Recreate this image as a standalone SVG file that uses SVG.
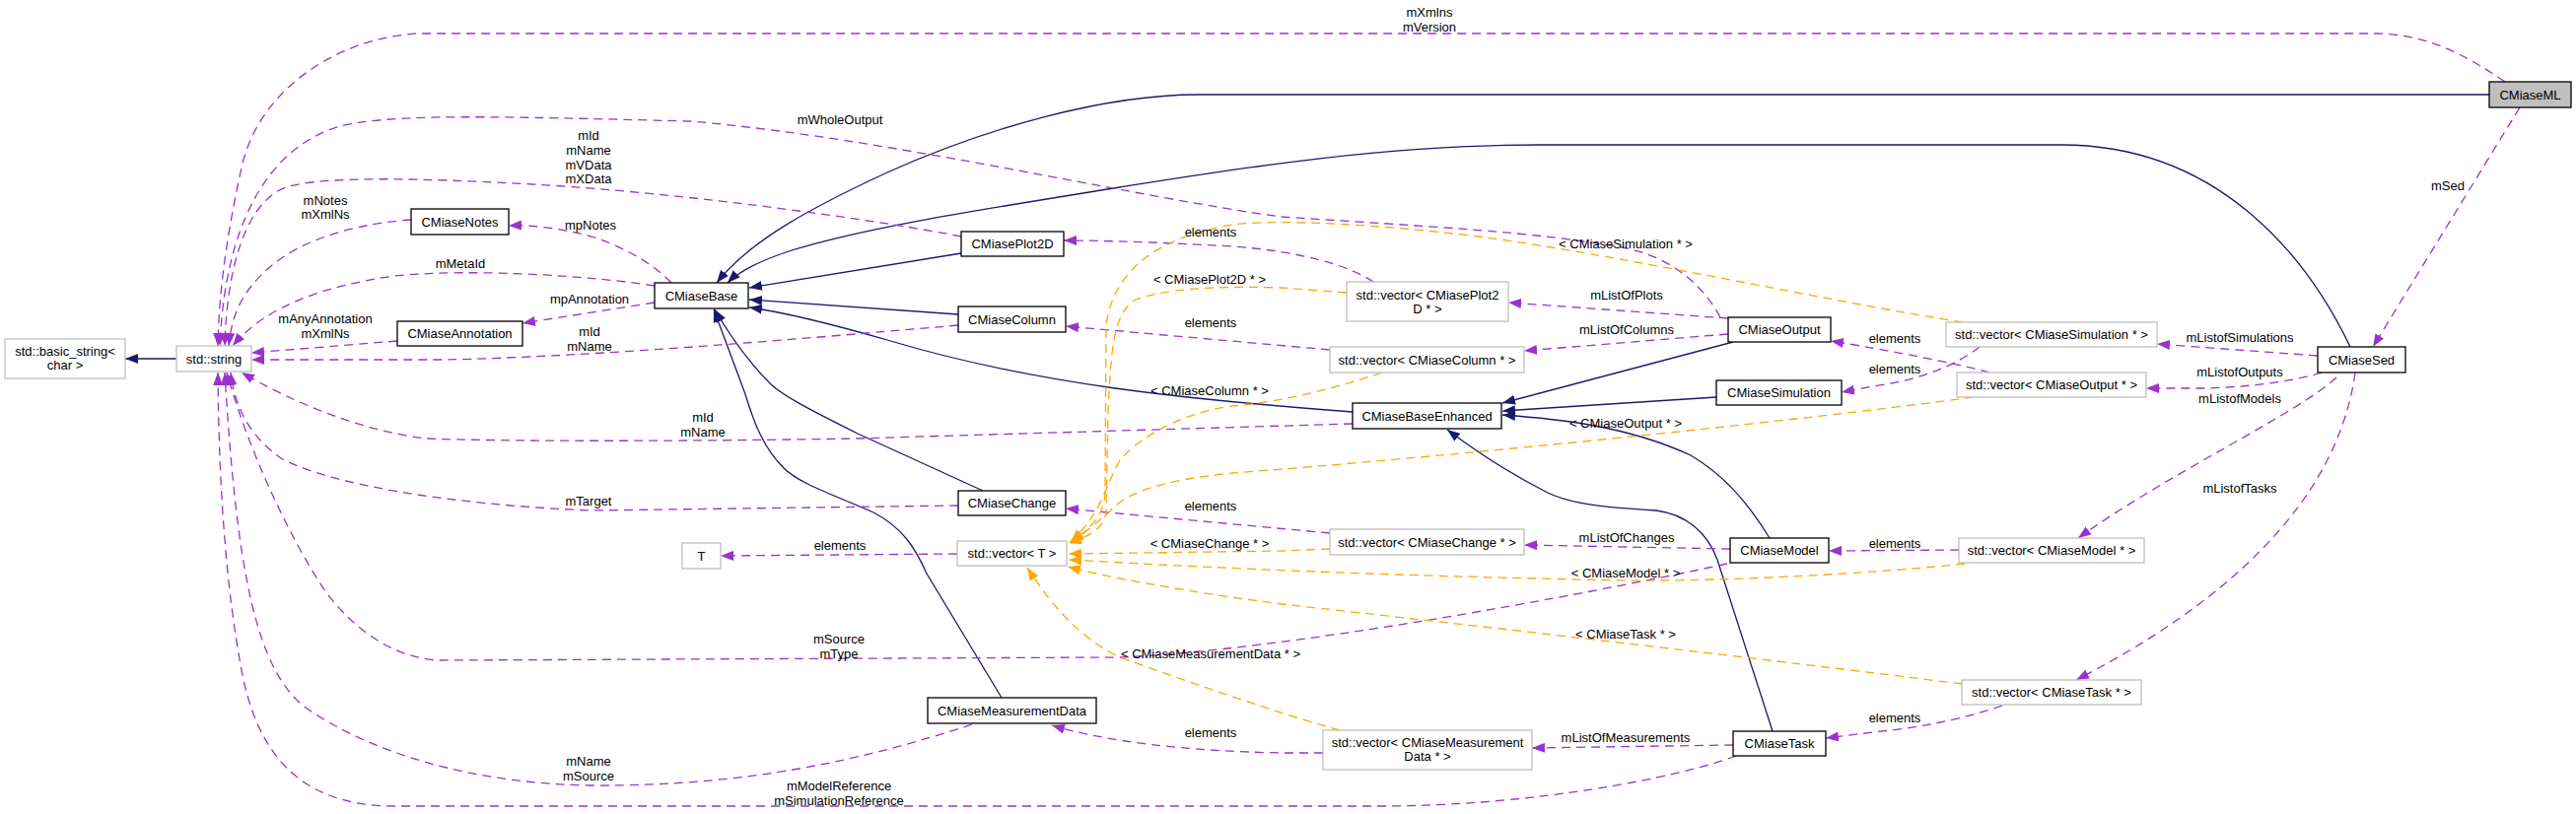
<svg xmlns="http://www.w3.org/2000/svg" width="2613" height="826" viewBox="0 0 2613 826">
<style>
text{font-family:"Liberation Sans",Arial,sans-serif;font-size:13px;text-anchor:middle;fill:#000}
.nd rect{fill:#fff;stroke:#000;stroke-width:1.3}
.gr rect{fill:#fff;stroke:#bfbfbf;stroke-width:1.3}
.cur rect{fill:#bfbfbf;stroke:#000;stroke-width:1.3}
.b{fill:none;stroke:#191970;stroke-width:1.3;marker-end:url(#ab)}
.p{fill:none;stroke:#9a32cd;stroke-width:1.3;stroke-dasharray:9,6;marker-end:url(#ap)}
.o{fill:none;stroke:#ffa500;stroke-width:1.3;stroke-dasharray:9,6;marker-end:url(#ao)}
</style>
<defs>
<marker id="ab" markerUnits="userSpaceOnUse" markerWidth="14" markerHeight="10" refX="13" refY="5" orient="auto"><path d="M0,0 L13,5 L0,10 z" fill="#191970"/></marker>
<marker id="ap" markerUnits="userSpaceOnUse" markerWidth="14" markerHeight="10" refX="13" refY="5" orient="auto"><path d="M0,0 L13,5 L0,10 z" fill="#9a32cd"/></marker>
<marker id="ao" markerUnits="userSpaceOnUse" markerWidth="14" markerHeight="10" refX="13" refY="5" orient="auto"><path d="M0,0 L13,5 L0,10 z" fill="#ffa500"/></marker>
</defs>
<rect width="2613" height="826" fill="#fff"/>
<g id="connectors">
<!-- inheritance -->
<path class="b" d="M179,364 L127,364"/>
<path class="b" d="M2525,96 L1216,96 C1120,96 1000,130 900,175 C820,212 760,245 727,287"/>
<path class="b" d="M2384,352 C2340,260 2250,147 2091,147 L1562,147 C1400,147 1250,172 1136,190 C1000,212 880,230 800,255 C770,265 750,275 738,287"/>
<path class="b" d="M975,257 L760,292"/>
<path class="b" d="M972,319 L760,304"/>
<path class="b" d="M1372,418 C1200,405 1050,390 900,345 C830,325 790,316 760,312"/>
<path class="b" d="M997,498 L870,440 C820,415 795,402 782,390 C760,368 740,340 725,314"/>
<path class="b" d="M1016,708 L940,582 C928,555 915,535 886,520 C840,500 810,490 795,475 C775,455 765,430 756,400 L724,314"/>
<path class="b" d="M1758,347 L1524,409"/>
<path class="b" d="M1741,403 L1524,417"/>
<path class="b" d="M1795,546 C1770,505 1745,480 1715,462 C1650,432 1580,425 1524,421"/>
<path class="b" d="M1798,742 L1742,568 C1732,540 1710,522 1680,518 C1630,515 1595,512 1570,500 C1540,485 1500,460 1468,436"/>
<!-- usage to std::string -->
<path class="p" d="M2541,83 C2500,55 2460,34 2409,34 L430,34 C360,34 265,80 245,170 C232,230 222,290 221,351"/>
<path class="p" d="M1745,322 C1725,285 1690,260 1650,252 C1560,235 1450,230 1300,220 C1150,200 900,140 700,123 C500,118 400,115 345,128 C270,150 228,230 223,351"/>
<path class="p" d="M975,240 C900,225 700,196 540,187 C430,181 330,178 290,190 C250,205 230,270 228,351"/>
<path class="p" d="M417,223 C370,226 310,240 275,270 C245,295 235,320 232,351"/>
<path class="p" d="M664,290 C600,280 480,272 400,280 C330,290 270,310 236,351"/>
<path class="p" d="M403,346 L255,358"/>
<path class="p" d="M972,330 C800,345 600,362 450,365 L255,365"/>
<path class="p" d="M1372,430 L868,445 C700,448 500,448 433,445 C370,438 300,410 245,378"/>
<path class="p" d="M972,513 L600,518 C450,512 330,490 285,465 C250,440 238,410 234,378"/>
<path class="p" d="M1752,572 C1600,605 1300,660 1136,667 L446,670 C400,668 360,640 330,600 C290,540 250,450 230,378"/>
<path class="p" d="M986,735 C880,770 760,798 600,797 C470,795 370,760 310,718 C260,680 240,580 228,378"/>
<path class="p" d="M1761,767 C1700,790 1550,818 1400,818 L400,818 C300,818 260,760 245,680 C230,600 222,500 221,378"/>
<!-- other usage -->
<path class="p" d="M681,287 C660,265 630,250 600,240 C570,232 540,228 516,229"/>
<path class="p" d="M664,307 L530,328"/>
<path class="p" d="M1393,286 C1370,270 1320,255 1250,250 C1180,246 1120,244 1079,244"/>
<path class="p" d="M1349,355 L1081,331"/>
<path class="p" d="M1753,323 L1530,307"/>
<path class="p" d="M1753,339 L1546,356"/>
<path class="p" d="M1349,541 L1081,516"/>
<path class="p" d="M1755,557 L1546,553"/>
<path class="p" d="M971,562 L731,564"/>
<path class="p" d="M1342,764 L1300,764 C1200,762 1120,752 1067,736"/>
<path class="p" d="M1758,756 L1554,759"/>
<path class="p" d="M2018,378 C1990,370 1920,356 1857,346"/>
<path class="p" d="M2008,352 C1985,370 1950,385 1900,392 L1868,398"/>
<path class="p" d="M1987,558 L1855,559"/>
<path class="p" d="M2031,716 C1990,730 1950,738 1900,743 L1852,749"/>
<path class="p" d="M2351,361 L2188,349"/>
<path class="p" d="M2355,378 C2330,386 2290,392 2240,394 L2177,394"/>
<path class="p" d="M2370,383 C2330,420 2200,480 2108,546"/>
<path class="p" d="M2389,378 C2375,480 2300,590 2106,690"/>
<path class="p" d="M2556,109 L2407,352"/>
<!-- template instances -->
<path class="o" d="M1991,327 C1850,305 1650,260 1500,240 C1400,228 1300,222 1250,228 C1180,240 1130,270 1122,330 L1121,500 C1120,520 1110,535 1086,549"/>
<path class="o" d="M1366,297 L1300,292 C1230,290 1180,293 1150,305 C1130,320 1127,350 1124,420 L1122,520 C1120,535 1105,545 1084,551"/>
<path class="o" d="M1402,378 C1350,395 1300,408 1250,412 C1190,420 1150,450 1136,467 C1120,495 1118,520 1086,550"/>
<path class="o" d="M2002,403 C1800,430 1450,465 1250,480 C1180,487 1140,500 1125,520 L1086,552"/>
<path class="o" d="M1349,557 L1300,559 L1084,562"/>
<path class="o" d="M1993,572 C1900,582 1750,590 1650,589 C1450,585 1300,580 1084,568"/>
<path class="o" d="M1990,694 C1800,670 1500,635 1300,613 C1200,600 1120,585 1083,575"/>
<path class="o" d="M1359,741 C1300,725 1200,690 1136,667 C1100,650 1070,620 1042,576"/>
<!-- labels -->
<text x="1450" y="17">mXmlns</text><text x="1450" y="32">mVersion</text>
<text x="852" y="126">mWholeOutput</text>
<text x="597" y="142">mId</text><text x="597" y="157">mName</text><text x="597" y="172">mVData</text><text x="597" y="186">mXData</text>
<text x="330" y="208">mNotes</text><text x="330" y="222">mXmlNs</text>
<text x="599" y="233">mpNotes</text>
<text x="1228" y="240">elements</text>
<text x="1649" y="252">&lt; CMiaseSimulation * &gt;</text>
<text x="467" y="272">mMetaId</text>
<text x="1227" y="288">&lt; CMiasePlot2D * &gt;</text>
<text x="1650" y="304">mListOfPlots</text>
<text x="598" y="308">mpAnnotation</text>
<text x="330" y="328">mAnyAnnotation</text><text x="330" y="343">mXmlNs</text>
<text x="1228" y="332">elements</text>
<text x="1650" y="339">mListOfColumns</text>
<text x="598" y="341">mId</text><text x="598" y="356">mName</text>
<text x="1922" y="348">elements</text>
<text x="2272" y="347">mListofSimulations</text>
<text x="1922" y="379">elements</text>
<text x="2272" y="382">mListofOutputs</text>
<text x="1227" y="401">&lt; CMiaseColumn * &gt;</text>
<text x="2272" y="409">mListofModels</text>
<text x="713" y="428">mId</text><text x="713" y="443">mName</text>
<text x="1649" y="434">&lt; CMiaseOutput * &gt;</text>
<text x="2483" y="193">mSed</text>
<text x="2272" y="500">mListofTasks</text>
<text x="597" y="513">mTarget</text>
<text x="1228" y="518">elements</text>
<text x="1650" y="550">mListOfChanges</text>
<text x="1922" y="556">elements</text>
<text x="1227" y="556">&lt; CMiaseChange * &gt;</text>
<text x="852" y="558">elements</text>
<text x="1649" y="586">&lt; CMiaseModel * &gt;</text>
<text x="1649" y="648">&lt; CMiaseTask * &gt;</text>
<text x="851" y="653">mSource</text><text x="851" y="668">mType</text>
<text x="1228" y="668">&lt; CMiaseMeasurementData * &gt;</text>
<text x="1922" y="733">elements</text>
<text x="1228" y="748">elements</text>
<text x="1649" y="753">mListOfMeasurements</text>
<text x="597" y="777">mName</text><text x="597" y="792">mSource</text>
<text x="851" y="802">mModelReference</text><text x="851" y="817">mSimulationReference</text>
</g>
<g id="CMiaseML" class="cur"><rect x="2525" y="83" width="83" height="26"/><text x="2566.5" y="100.5">CMiaseML</text></g>
<g id="CMiaseBase" class="nd"><rect x="664" y="287" width="95" height="26"/><text x="711.5" y="304.5">CMiaseBase</text></g>
<g id="CMiaseNotes" class="nd"><rect x="417" y="212" width="99" height="26"/><text x="466.5" y="229.5">CMiaseNotes</text></g>
<g id="CMiaseAnnotation" class="nd"><rect x="403" y="326" width="127" height="25"/><text x="466.5" y="343">CMiaseAnnotation</text></g>
<g id="std_basic_string" class="gr"><rect x="5" y="344" width="122" height="40"/><text x="66" y="360.5">std::basic_string&lt;</text><text x="66" y="375">char &gt;</text></g>
<g id="std_string" class="gr"><rect x="179" y="351" width="76" height="26"/><text x="217" y="368.5">std::string</text></g>
<g id="CMiasePlot2D" class="nd"><rect x="975" y="235" width="104" height="25"/><text x="1027" y="252">CMiasePlot2D</text></g>
<g id="CMiaseColumn" class="nd"><rect x="972" y="311" width="109" height="26"/><text x="1026.5" y="328.5">CMiaseColumn</text></g>
<g id="CMiaseChange" class="nd"><rect x="972" y="498" width="109" height="25"/><text x="1026.5" y="515">CMiaseChange</text></g>
<g id="std_vector_T" class="gr"><rect x="971" y="549" width="111" height="25"/><text x="1026.5" y="566">std::vector&lt; T &gt;</text></g>
<g id="T" class="gr"><rect x="692" y="551" width="39" height="26"/><text x="711.5" y="568.5">T</text></g>
<g id="CMiaseMeasurementData" class="nd"><rect x="941" y="708" width="171" height="26"/><text x="1026.5" y="725.5">CMiaseMeasurementData</text></g>
<g id="vec_Plot2D" class="gr"><rect x="1366" y="286" width="164" height="40"/><text x="1448" y="303.5">std::vector&lt; CMiasePlot2</text><text x="1448" y="318">D * &gt;</text></g>
<g id="CMiaseOutput" class="nd"><rect x="1753" y="322" width="104" height="25"/><text x="1805" y="339">CMiaseOutput</text></g>
<g id="vec_Column" class="gr"><rect x="1349" y="352" width="197" height="26"/><text x="1447.5" y="369.5">std::vector&lt; CMiaseColumn * &gt;</text></g>
<g id="CMiaseSimulation" class="nd"><rect x="1741" y="386" width="127" height="25"/><text x="1804.5" y="403">CMiaseSimulation</text></g>
<g id="CMiaseBaseEnhanced" class="nd"><rect x="1372" y="409" width="151" height="26"/><text x="1447.5" y="426.5">CMiaseBaseEnhanced</text></g>
<g id="vec_Change" class="gr"><rect x="1349" y="537" width="197" height="26"/><text x="1447.5" y="554.5">std::vector&lt; CMiaseChange * &gt;</text></g>
<g id="CMiaseModel" class="nd"><rect x="1755" y="546" width="100" height="25"/><text x="1805" y="563">CMiaseModel</text></g>
<g id="vec_MeasurementData" class="gr"><rect x="1342" y="741" width="212" height="40"/><text x="1448" y="757.5">std::vector&lt; CMiaseMeasurement</text><text x="1448" y="772">Data * &gt;</text></g>
<g id="CMiaseTask" class="nd"><rect x="1758" y="742" width="94" height="25"/><text x="1805" y="759">CMiaseTask</text></g>
<g id="vec_Simulation" class="gr"><rect x="1974" y="327" width="214" height="25"/><text x="2081" y="344">std::vector&lt; CMiaseSimulation * &gt;</text></g>
<g id="CMiaseSed" class="nd"><rect x="2351" y="352" width="89" height="26"/><text x="2395.5" y="369.5">CMiaseSed</text></g>
<g id="vec_Output" class="gr"><rect x="1985" y="378" width="192" height="25"/><text x="2081" y="395">std::vector&lt; CMiaseOutput * &gt;</text></g>
<g id="vec_Model" class="gr"><rect x="1987" y="546" width="188" height="25"/><text x="2081" y="563">std::vector&lt; CMiaseModel * &gt;</text></g>
<g id="vec_Task" class="gr"><rect x="1990" y="690" width="182" height="25"/><text x="2081" y="707">std::vector&lt; CMiaseTask * &gt;</text></g>
</svg>
